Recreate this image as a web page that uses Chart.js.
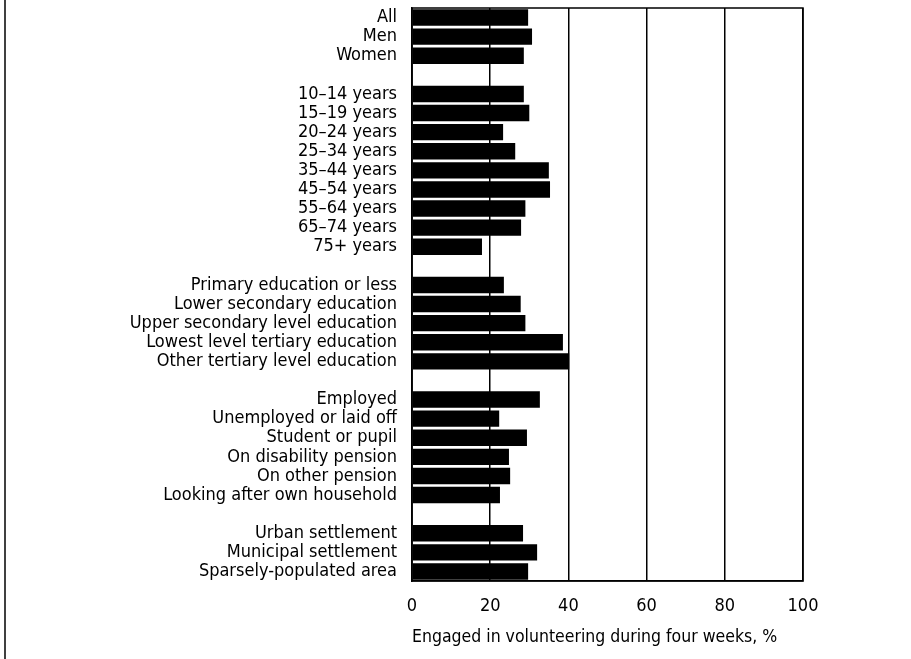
<!DOCTYPE html>
<html>
<head>
<meta charset="utf-8">
<script src="https://cdn.jsdelivr.net/npm/chart.js@4/dist/chart.umd.min.js"></script>
<style>
  html, body { margin: 0; padding: 0; background: #fff; overflow: hidden; }
  #wrap { position: relative; width: 911px; height: 659px; }
</style>
</head>
<body>
<div id="wrap"><canvas id="chart" width="911" height="659"></canvas></div>
<script>
// Categories (empty strings are the spacer rows between groups)
const categories = [
  'All', 'Men', 'Women',
  '',
  '10–14 years', '15–19 years', '20–24 years', '25–34 years',
  '35–44 years', '45–54 years', '55–64 years', '65–74 years', '75+ years',
  '',
  'Primary education or less', 'Lower secondary education',
  'Upper secondary level education', 'Lowest level tertiary education',
  'Other tertiary level education',
  '',
  'Employed', 'Unemployed or laid off', 'Student or pupil',
  'On disability pension', 'On other pension', 'Looking after own household',
  '',
  'Urban settlement', 'Municipal settlement', 'Sparsely-populated area'
];

// Share engaged in volunteering, % (null = spacer row)
const volunteering = [
  29.7, 30.7, 28.6,
  null,
  28.6, 30.0, 23.3, 26.4, 35.0, 35.3, 29.0, 27.9, 17.9,
  null,
  23.5, 27.8, 29.0, 38.6, 40.2,
  null,
  32.7, 22.3, 29.4, 24.8, 25.1, 22.5,
  null,
  28.4, 32.0, 29.7
];

const xTicks = [0, 20, 40, 60, 80, 100];
const xTitle = 'Engaged in volunteering during four weeks, %';

const FONT = "'Liberation Sans Narrow', 'DejaVu Sans Condensed', sans-serif";

// frame round the plot area, plus the page edge line on the left
const framePlugin = {
  id: 'frame',
  afterDraw(chart) {
    const { ctx, chartArea: a } = chart;
    ctx.save();
    ctx.strokeStyle = '#000';
    ctx.lineWidth = 1.5;
    ctx.strokeRect(a.left, a.top, a.right - a.left, a.bottom - a.top);
    ctx.beginPath();
    ctx.moveTo(5, 0);
    ctx.lineTo(5, chart.height);
    ctx.stroke();
    ctx.restore();
  }
};

new Chart(document.getElementById('chart'), {
  type: 'bar',
  data: {
    labels: categories,
    datasets: [{
      data: volunteering,
      backgroundColor: '#000',
      borderWidth: 0,
      barPercentage: 0.86,
      categoryPercentage: 1.0
    }]
  },
  options: {
    indexAxis: 'y',
    responsive: false,
    animation: false,
    layout: { padding: { left: 0, right: 108, top: 8, bottom: 0 } },
    plugins: { legend: { display: false }, tooltip: { enabled: false } },
    scales: {
      x: {
        min: 0,
        max: 100,
        afterBuildTicks: (scale) => { scale.ticks = xTicks.map(v => ({ value: v })); },
        afterFit: (scale) => { scale.height = 78; },
        grid: { color: '#000', lineWidth: 1.5, drawTicks: false },
        border: { display: true, color: '#000', width: 1.5 },
        ticks: { color: '#000', padding: 15, font: { family: FONT, size: 18 } },
        title: {
          display: true,
          text: xTitle,
          align: 'start',
          color: '#000',
          padding: { top: 0, bottom: 11 },
          font: { family: FONT, size: 17.5 }
        }
      },
      y: {
        afterFit: (scale) => {
          scale.width = 412;
          scale.paddingTop = 0;
          scale.paddingBottom = 0;
        },
        grid: { display: false, drawTicks: false },
        border: { display: true, color: '#000', width: 1.5 },
        ticks: {
          color: '#000',
          padding: 15,
          autoSkip: false,
          font: { family: FONT, size: 18, lineHeight: 1.0 }
        }
      }
    }
  },
  plugins: [framePlugin]
});
</script>
</body>
</html>
